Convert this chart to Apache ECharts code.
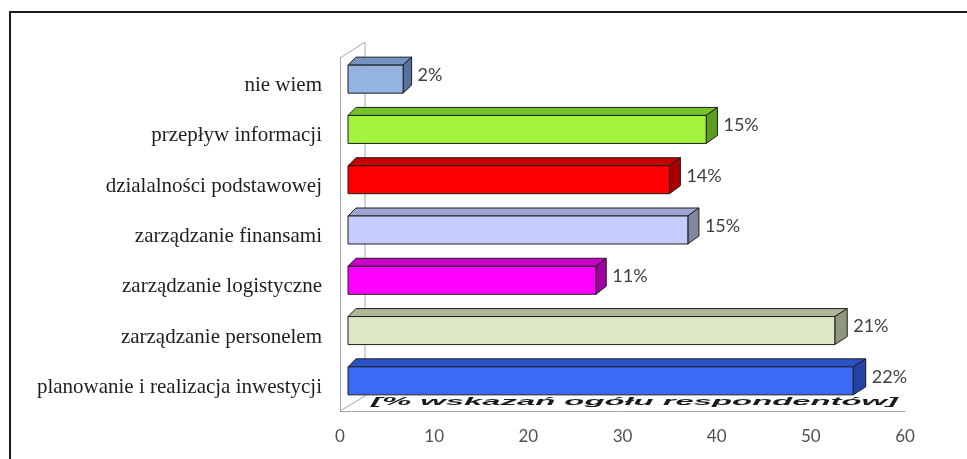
<!DOCTYPE html>
<html>
<head>
<meta charset="utf-8">
<script src="https://cdn.jsdelivr.net/npm/echarts@6/dist/echarts.min.js"></script>
<style>
  html, body { margin: 0; padding: 0; background: #ffffff; }
  #chart { width: 967px; height: 459px; }
</style>
</head>
<body>
<div id="chart"></div>
<script>
// Survey answers, listed top to bottom
const categories = [
  'nie wiem',
  'przepływ informacji',
  'dzialalności podstawowej',
  'zarządzanie finansami',
  'zarządzanie logistyczne',
  'zarządzanie personelem',
  'planowanie i realizacja inwestycji'
];
// Number of indications per answer
const counts = [6, 39, 35, 37, 27, 53, 55];
// Value axis ticks
const axisMin = 0;
const axisMax = 60;
const axisStep = 10;
const floorTitle = '[% wskazań ogółu respondentów]';

// Face colours of each 3D bar: front, top, side
const frontColors = ['#95B3E0', '#A3F23C', '#FF0000', '#C6CCFF', '#FF00FF', '#DEE8C6', '#3B6BF5'];
const topColors   = ['#7592C2', '#74C42A', '#C80000', '#9FA4D2', '#C800C8', '#AEB898', '#2A52C8'];
const sideColors  = ['#56739E', '#5E9E1E', '#A80000', '#80869E', '#A000A0', '#8F977C', '#2242A8'];

const total = counts.reduce((a, b) => a + b, 0);
const shareText = v => Math.round(v / total * 100) + '%';

const chart = echarts.init(document.getElementById('chart'), null, { renderer: 'canvas' });

function renderBar(params, api) {
  const i = api.value(1);
  const v = api.value(0);
  const start = api.coord([axisMin, i]);
  const end = api.coord([v, i]);
  const far = api.coord([axisMax, i]);
  const h = 28, dy = 8;
  // half depth grows slightly to the right (perspective)
  const half = x => 4 + 2.5 * (x - start[0]) / (far[0] - start[0]);
  const hs = half(start[0]), he = half(end[0]);
  const yF = end[1] + dy / 2;
  const fl = start[0] - hs, fr = end[0] - he;
  const bl = start[0] + hs, br = end[0] + he;
  const ft = yF - h / 2, fb = yF + h / 2;
  const bt = ft - dy, bb = fb - dy;
  const edge = { stroke: '#1E1E1E', lineWidth: 1, lineJoin: 'round' };
  return {
    type: 'group',
    children: [
      { type: 'polygon', shape: { points: [[fl, ft], [fr, ft], [br, bt], [bl, bt]] },
        style: Object.assign({ fill: topColors[i] }, edge) },
      { type: 'polygon', shape: { points: [[fr, ft], [br, bt], [br, bb], [fr, fb]] },
        style: Object.assign({ fill: sideColors[i] }, edge) },
      { type: 'polygon', shape: { points: [[fl, ft], [fr, ft], [fr, fb], [fl, fb]] },
        style: Object.assign({ fill: frontColors[i] }, edge) },
      { type: 'text', x: br + 6, y: end[1],
        style: { text: shareText(v), fill: '#404040', font: '18px Lato',
                 textAlign: 'left', textVerticalAlign: 'middle' } }
    ]
  };
}

chart.setOption({
  animation: false,
  backgroundColor: '#ffffff',
  grid: [
    // front plane (axis labels, floor edge)
    { left: 340, right: 62, top: 58, bottom: 48 },
    // middle plane of the bars
    { left: 352, right: 61.4, top: 50, bottom: 57 }
  ],
  xAxis: [
    { gridIndex: 0, type: 'value', min: axisMin, max: axisMax, interval: axisStep,
      axisLine: { show: true, lineStyle: { color: '#A6A6A6', width: 1 } },
      axisTick: { show: false }, splitLine: { show: false },
      axisLabel: { color: '#505050', fontFamily: 'Lato', fontSize: 17, margin: 17 } },
    { gridIndex: 1, type: 'value', min: axisMin, max: axisMax, show: false }
  ],
  yAxis: [
    { gridIndex: 0, type: 'value', min: 0, max: 1,
      axisLine: { show: true, lineStyle: { color: '#A6A6A6', width: 1 } },
      axisTick: { show: false }, axisLabel: { show: false }, splitLine: { show: false } },
    { gridIndex: 1, type: 'category', inverse: true, data: categories,
      axisLine: { show: false }, axisTick: { show: false }, splitLine: { show: false },
      axisLabel: { color: '#1E1E1E', fontFamily: 'Liberation Serif', fontSize: 21,
                   lineHeight: 21, margin: 30, verticalAlign: 'top' } }
  ],
  series: [{
    type: 'custom',
    xAxisIndex: 1,
    yAxisIndex: 1,
    renderItem: renderBar,
    encode: { x: 0, y: 1 },
    data: counts.map((v, i) => [v, i]),
    z: 3
  }]
});

// walls, floor caption and frame, placed from the front plane's coordinates
const bottomLeft = chart.convertToPixel({ xAxisIndex: 0, yAxisIndex: 0 }, [axisMin, 0]);
const topLeft = chart.convertToPixel({ xAxisIndex: 0, yAxisIndex: 0 }, [axisMin, 1]);
const bottomRight = chart.convertToPixel({ xAxisIndex: 0, yAxisIndex: 0 }, [axisMax, 0]);
const wallDx = 25, wallDy = -16;
const wallStyle = { stroke: '#A6A6A6', lineWidth: 1, fill: null };

const captionFont = 'italic bold 24px "Liberation Sans"';
const ctx = document.createElement('canvas').getContext('2d');
ctx.font = captionFont;
const captionWidth = ctx.measureText(floorTitle).width;
const captionTarget = bottomRight[0] - bottomLeft[0] - 38;

chart.setOption({
  graphic: [
    { type: 'polyline', silent: true, z: 1,
      shape: { points: [[bottomLeft[0], topLeft[1]], [topLeft[0] + wallDx, topLeft[1] + wallDy],
                        [bottomLeft[0] + wallDx, bottomLeft[1] + wallDy + 1], [bottomLeft[0], bottomLeft[1]]] },
      style: wallStyle },
    { type: 'text', silent: true, z: 2,
      x: bottomLeft[0] + 31, y: bottomLeft[1] - 9,
      scaleX: captionTarget / captionWidth, scaleY: 0.42,
      style: { text: floorTitle, font: captionFont, fill: '#1A1A1A',
               textAlign: 'left', textVerticalAlign: 'middle' } },
    { type: 'polyline', silent: true, z: 10,
      shape: { points: [[10, 459], [10, 12], [967, 12]] },
      style: { stroke: '#1A1A1A', lineWidth: 2, fill: null } }
  ]
});
</script>
</body>
</html>
